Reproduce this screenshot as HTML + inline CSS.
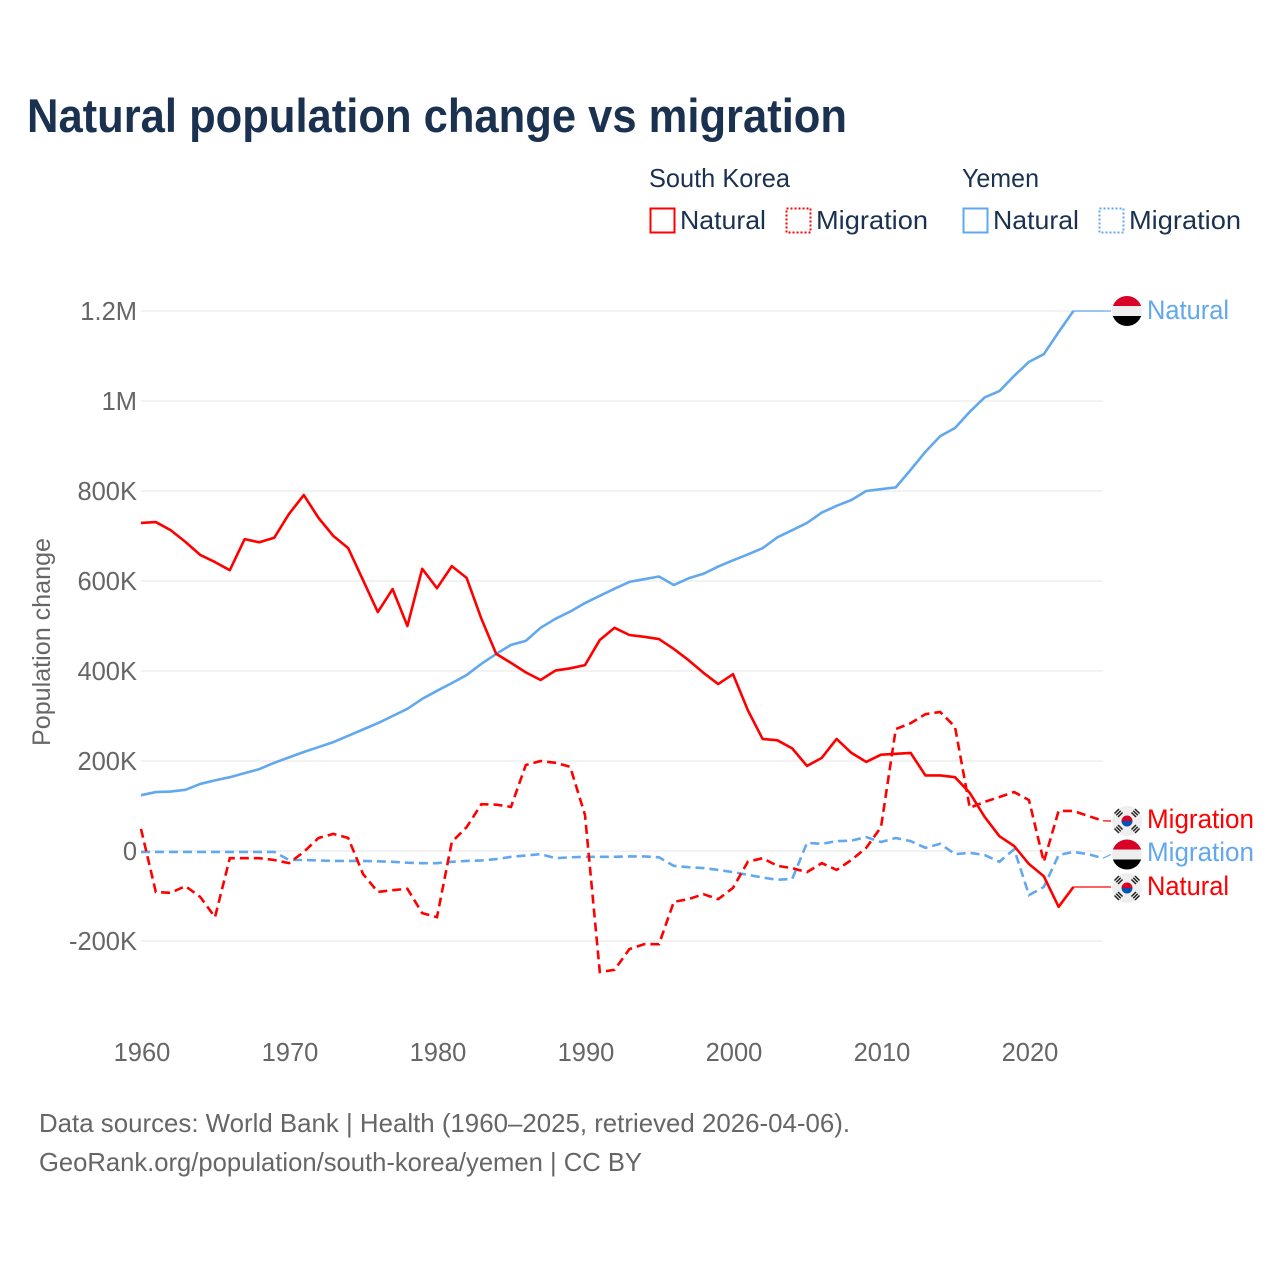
<!DOCTYPE html>
<html lang="en">
<head>
<meta charset="utf-8">
<title>Natural population change vs migration</title>
<style>
html,body{margin:0;padding:0;background:#fff;width:1280px;height:1280px;overflow:hidden}
svg{display:block}
text{font-family:"Liberation Sans",sans-serif}
</style>
</head>
<body>
<svg id="chart" xmlns="http://www.w3.org/2000/svg" width="1280" height="1280" viewBox="0 0 1280 1280">
  <rect x="0" y="0" width="1280" height="1280" fill="#fff"/>
  <text x="27" y="132" font-size="47" font-weight="700" fill="#1a3150" textLength="820" lengthAdjust="spacingAndGlyphs">Natural population change vs migration</text>

  <g font-size="26" fill="#1a3150">
    <text x="649" y="187" textLength="141" lengthAdjust="spacingAndGlyphs">South Korea</text>
    <text x="962" y="187" textLength="77" lengthAdjust="spacingAndGlyphs">Yemen</text>
    <g>
      <rect x="650.5" y="208.5" width="24" height="24" fill="none" stroke="#ff0000" stroke-width="2"/>
      <text x="680" y="229" textLength="86" lengthAdjust="spacingAndGlyphs">Natural</text>
    </g>
    <g>
      <rect x="786.5" y="208.5" width="24" height="24" fill="none" stroke="#ff0000" stroke-width="2" stroke-dasharray="2 2"/>
      <text x="816" y="229" textLength="112" lengthAdjust="spacingAndGlyphs">Migration</text>
    </g>
    <g>
      <rect x="963.5" y="208.5" width="24" height="24" fill="none" stroke="#62a8ee" stroke-width="2"/>
      <text x="993" y="229" textLength="86" lengthAdjust="spacingAndGlyphs">Natural</text>
    </g>
    <g>
      <rect x="1099.5" y="208.5" width="24" height="24" fill="none" stroke="#62a8ee" stroke-width="2" stroke-dasharray="2 2"/>
      <text x="1129" y="229" textLength="112" lengthAdjust="spacingAndGlyphs">Migration</text>
    </g>
  </g>

  <text transform="translate(50,642) rotate(-90)" text-anchor="middle" font-size="25" fill="#666" textLength="208" lengthAdjust="spacingAndGlyphs">Population change</text>

  <g id="grid"></g>
  <g id="yticks"></g>
  <g id="xticks"></g>
  <g id="series"></g>
  <g id="ends"></g>

  <text x="39" y="1132" font-size="26" fill="#666" textLength="811" lengthAdjust="spacingAndGlyphs">Data sources: World Bank | Health (1960–2025, retrieved 2026-04-06).</text>
  <text x="39" y="1171" font-size="26" fill="#666" textLength="603" lengthAdjust="spacingAndGlyphs">GeoRank.org/population/south-korea/yemen | CC BY</text>
</svg>
<script>
const startYear = 1960;
const endYear = 2025;
const yTickValues = [-200, 0, 200, 400, 600, 800, 1000, 1200];
const yTickLabels = ["-200K", "0", "200K", "400K", "600K", "800K", "1M", "1.2M"];
const xTickValues = [1960, 1970, 1980, 1990, 2000, 2010, 2020];

const yemenNatural = [124,131,132,136,149,157,164,173,182,196,208,220,231,242,256,270,284,300,316,338,356,373,391,416,438,458,467,496,516,532,551,567,583,598,604,610,591,606,616,632,646,659,673,697,713,729,752,767,780,800,804,808,847,887,922,940,976,1008,1022,1056,1087,1104,1153,1200];
const yemenMigration = [-2,-2,-2,-2,-2,-2,-2,-2,-2,-2,-20,-20,-21,-22,-22,-22,-23,-24,-26,-27,-27,-24,-22,-21,-18,-13,-10,-7,-16,-14,-13,-13,-13,-12,-12,-14,-33,-36,-38,-42,-47,-53,-59,-64,-62,18,16,22,23,31,20,29,22,7,16,-7,-4,-9,-24,4,-98,-80,-9,-2,-7,-16];
const koreaNatural = [729,731,713,687,658,642,624,693,686,696,749,791,740,700,673,602,531,582,500,627,584,633,607,516,438,418,397,380,401,406,413,469,496,480,476,471,449,424,396,371,393,313,249,246,228,189,207,249,218,198,214,216,218,168,168,164,129,76,33,11,-29,-56,-124,-80];
const koreaMigration = [49,-91,-93,-78,-102,-147,-16,-16,-16,-20,-27,-2,29,38,29,-51,-91,-87,-84,-138,-147,20,53,104,103,98,191,200,196,187,80,-269,-264,-218,-207,-207,-113,-107,-96,-107,-82,-24,-16,-33,-38,-47,-27,-42,-20,7,53,271,284,304,309,276,96,109,120,131,113,-24,89,89,78,67];

const NS = "http://www.w3.org/2000/svg";
const x0 = 141, x1 = 1103, yZero = 851, pxPerK = 0.45;
const RED = "#ff0000", BLUE = "#62a8ee";

function xScale(year) { return x0 + (year - startYear) * (x1 - x0) / (endYear - startYear); }
function yScale(v) { return yZero - v * pxPerK; }
function mk(tag, attrs, parent) {
  const e = document.createElementNS(NS, tag);
  for (const k in attrs) e.setAttribute(k, attrs[k]);
  parent.appendChild(e);
  return e;
}

const grid = document.getElementById("grid");
const yticks = document.getElementById("yticks");
const xticks = document.getElementById("xticks");
const seriesG = document.getElementById("series");
const ends = document.getElementById("ends");

yTickValues.forEach(function (v, i) {
  const gl = mk("line", { x1: x0, x2: x1, y1: yScale(v), y2: yScale(v), stroke: "#eeeeee", "stroke-width": 1.5 }, grid);
  
  
  const t = mk("text", { x: 137, y: yScale(v) + 9, "text-anchor": "end", "font-size": 25.5, fill: "#666" }, yticks);
  t.textContent = yTickLabels[i];
  
  
});

xTickValues.forEach(function (yr) {
  const t = mk("text", { x: xScale(yr) + 1, y: 1061, "text-anchor": "middle", "font-size": 25.5, fill: "#666" }, xticks);
  t.textContent = String(yr);
  
  
});

function pointsOf(values) {
  return values.map(function (v, i) { return xScale(startYear + i).toFixed(2) + "," + yScale(v).toFixed(2); }).join(" ");
}
function drawLeader(values, color, labelY) {
  const i = values.length - 1;
  const l = mk("line", { x1: xScale(startYear + i), y1: yScale(values[i]), x2: 1111, y2: labelY, stroke: color, "stroke-width": 1.2 }, seriesG);
  
  
}

const pYN = mk("polyline", { points: pointsOf(yemenNatural), fill: "none", stroke: BLUE, "stroke-width": 2.6, "stroke-linejoin": "round" }, seriesG);


const pYM = mk("polyline", { points: pointsOf(yemenMigration), fill: "none", stroke: BLUE, "stroke-width": 2.6, "stroke-dasharray": "9 5" }, seriesG);


const pKN = mk("polyline", { points: pointsOf(koreaNatural), fill: "none", stroke: RED, "stroke-width": 2.6, "stroke-linejoin": "round" }, seriesG);


const pKM = mk("polyline", { points: pointsOf(koreaMigration), fill: "none", stroke: RED, "stroke-width": 2.6, "stroke-dasharray": "9 5" }, seriesG);



drawLeader(yemenNatural, BLUE, 311);
drawLeader(yemenMigration, BLUE, 854.5);
drawLeader(koreaNatural, RED, 887);
drawLeader(koreaMigration, RED, 821);

function flagYemen(cx, cy, idx) {
  const g = mk("g", {}, ends);
  
  
  const cid = "clipY" + idx;
  const cp = mk("clipPath", { id: cid }, g);
  mk("circle", { cx: cx, cy: cy, r: 15 }, cp);
  const inner = mk("g", { "clip-path": "url(#" + cid + ")" }, g);
  mk("rect", { x: cx - 15, y: cy - 15, width: 30, height: 10, fill: "#d80027" }, inner);
  mk("rect", { x: cx - 15, y: cy - 5, width: 30, height: 10, fill: "#eeeeee" }, inner);
  mk("rect", { x: cx - 15, y: cy + 5, width: 30, height: 10, fill: "#000000" }, inner);
}
function flagKorea(cx, cy) {
  const g = mk("g", {}, ends);
  
  
  mk("circle", { cx: cx, cy: cy, r: 15, fill: "#eeeeee" }, g);
  mk("path", { d: "M" + (cx - 5.5) + " " + cy + "a5.5 5.5 0 0 1 11 0z", fill: "#d80027" }, g);
  mk("path", { d: "M" + (cx - 5.5) + " " + cy + "a5.5 5.5 0 0 0 11 0z", fill: "#0052b4" }, g);
  [[-1, -1], [1, -1], [-1, 1], [1, 1]].forEach(function (s) {
    const mx = cx + s[0] * 8.5, my = cy + s[1] * 8, ang = s[0] * s[1] > 0 ? -45 : 45;
    [-2.5, 0, 2.5].forEach(function (o) {
      mk("line", { x1: mx - 3.2, x2: mx + 3.2, y1: my + o, y2: my + o, stroke: "#222", "stroke-width": 1.5, transform: "rotate(" + ang + " " + mx + " " + my + ")" }, g);
    });
  });
}

flagYemen(1127, 311, 1);
flagKorea(1127, 821);
flagYemen(1127, 854.5, 2);
flagKorea(1127, 888);

const l1 = mk("text", { x: 1147, y: 319, "font-size": 27, fill: BLUE, textLength: 82, lengthAdjust: "spacingAndGlyphs" }, ends);
l1.textContent = "Natural";


const l2 = mk("text", { x: 1147, y: 828, "font-size": 27, fill: RED, textLength: 107, lengthAdjust: "spacingAndGlyphs" }, ends);
l2.textContent = "Migration";


const l3 = mk("text", { x: 1147, y: 861, "font-size": 27, fill: BLUE, textLength: 107, lengthAdjust: "spacingAndGlyphs" }, ends);
l3.textContent = "Migration";


const l4 = mk("text", { x: 1147, y: 895, "font-size": 27, fill: RED, textLength: 82, lengthAdjust: "spacingAndGlyphs" }, ends);
l4.textContent = "Natural";


</script>
</body>
</html>
